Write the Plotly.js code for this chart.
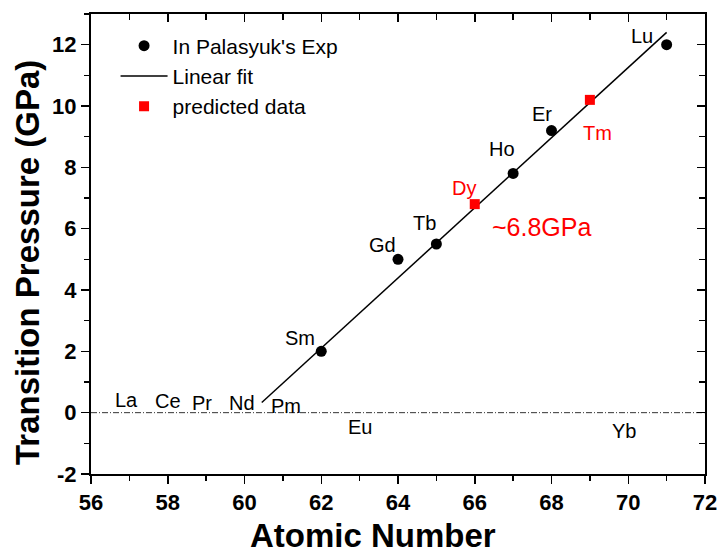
<!DOCTYPE html>
<html>
<head>
<meta charset="utf-8">
<script src="https://cdn.plot.ly/plotly-3.0.1.min.js"></script>
<style>html,body{margin:0;padding:0;background:#fff}#chart{width:721px;height:556px}</style>
</head>
<body>
<div id="chart"></div>
<script>
// measured data (Palasyuk's experiment)
const expNames = ["Sm", "Gd", "Tb", "Ho", "Er", "Lu"];
const expX = [62, 64, 65, 67, 68, 71];
const expY = [2.0, 5.0, 5.5, 7.8, 9.2, 12.0];

// predicted data
const predNames = ["Dy", "Tm"];
const predX = [66, 69];
const predY = [6.8, 10.2];

// linear fit end points
const fitX = [60.45, 71];
const fitY = [0.33, 12.4];

// element labels placed on the chart (name, atomic-number position, pressure position)
const labelNames = ["La", "Ce", "Pr", "Nd", "Pm", "Sm", "Eu", "Gd", "Tb", "Dy", "Ho", "Er", "Tm", "Yb", "Lu"];
const labelX = [56.93, 58.0, 58.88, 59.93, 61.08, 61.45, 63.0, 63.6, 64.7, 65.72, 66.7, 67.74, 69.19, 69.9, 70.35];
const labelY = [0.42, 0.37, 0.33, 0.31, 0.23, 2.43, -0.46, 5.46, 6.17, 7.31, 8.6, 9.75, 9.12, -0.61, 12.29];

const noteText = "~6.8GPa";
const noteX = 67.74;
const noteY = 6.06;

const xTicks = [56, 58, 60, 62, 64, 66, 68, 70, 72];
const yTicks = [-2, 0, 2, 4, 6, 8, 10, 12];

const xTitle = "Atomic Number";
const yTitle = "Transition Pressure (GPa)";

const FONT = "Arial, 'Liberation Sans', sans-serif";
const RED = "#ff0000";

const W = 721, H = 556, M = {l: 91, r: 16, t: 14, b: 82};
const pw = W - M.l - M.r, ph = H - M.t - M.b;

const traces = [
  {x: fitX, y: fitY, mode: "lines", name: "Linear fit", legendrank: 2,
   line: {color: "#000", width: 1.5}},
  {x: expX, y: expY, mode: "markers", name: "In Palasyuk's Exp", legendrank: 1,
   marker: {symbol: "circle", size: 11, color: "#000"}},
  {x: predX, y: predY, mode: "markers", name: "predicted data", legendrank: 3,
   marker: {symbol: "square", size: 10, color: RED}},
  {x: [], y: [], xaxis: "x2", yaxis: "y2", showlegend: false, hoverinfo: "skip"}
];

const annotations = labelNames.map((n, i) => ({
  x: labelX[i], y: labelY[i], xref: "x", yref: "y", text: n, showarrow: false,
  xanchor: "center", yanchor: "middle",
  font: {family: FONT, size: 20, color: predNames.includes(n) ? RED : "#000"}
}));
annotations.push({x: noteX, y: noteY, xref: "x", yref: "y", text: noteText, showarrow: false,
  xanchor: "center", yanchor: "middle",
  font: {family: FONT, size: 25, color: RED}});
// axis titles (placed as in the original figure, slightly off-centre)
annotations.push({x: (373 - M.l) / pw, y: (H - M.b - 535) / ph, xref: "paper", yref: "paper",
  xanchor: "center", yanchor: "middle", text: "<b>" + xTitle + "</b>",
  showarrow: false, font: {family: FONT, size: 33, color: "#000"}});
annotations.push({x: (27 - M.l) / pw, y: (H - M.b - 263) / ph, xref: "paper", yref: "paper",
  xanchor: "center", yanchor: "middle", text: "<b>" + yTitle + "</b>",
  showarrow: false, textangle: -90, font: {family: FONT, size: 33, color: "#000"}});

const axCommon = {
  showline: true, linecolor: "#000", linewidth: 2, showgrid: false, zeroline: false,
  tickcolor: "#000", tickwidth: 1.5, ticklen: 8
};

const layout = {
  width: W, height: H,
  margin: M,
  paper_bgcolor: "#fff", plot_bgcolor: "#fff",
  font: {family: FONT, color: "#000"},
  showlegend: true,
  legend: {x: 0.04, y: 0.975, xanchor: "left", yanchor: "top", bgcolor: "rgba(0,0,0,0)",
    font: {family: FONT, size: 21, color: "#000"}, itemwidth: 47, tracegroupgap: 0},
  xaxis: Object.assign({}, axCommon, {
    range: [56, 72], tickvals: xTicks, ticktext: xTicks.map(String), ticks: "outside",
    minor: {dtick: 1, tick0: 56, ticks: "outside", ticklen: 5, tickcolor: "#000", tickwidth: 1.5},
    tickfont: {family: FONT, size: 22, weight: "bold"}
  }),
  yaxis: Object.assign({}, axCommon, {
    range: [-2, 13], tickvals: yTicks, ticktext: yTicks.map(String), ticks: "outside",
    minor: {dtick: 1, tick0: 0, ticks: "outside", ticklen: 5, tickcolor: "#000", tickwidth: 1.5},
    tickfont: {family: FONT, size: 22, weight: "bold"}
  }),
  xaxis2: Object.assign({}, axCommon, {
    overlaying: "x", side: "top", anchor: "y2", range: [56, 72], tickvals: xTicks, ticks: "inside",
    showticklabels: false,
    minor: {dtick: 1, tick0: 56, ticks: "inside", ticklen: 6, tickcolor: "#000", tickwidth: 1.5}
  }),
  yaxis2: Object.assign({}, axCommon, {
    overlaying: "y", side: "right", anchor: "x2", range: [-2, 13], tickvals: yTicks, ticks: "inside",
    showticklabels: false,
    minor: {dtick: 1, tick0: 0, ticks: "inside", ticklen: 6, tickcolor: "#000", tickwidth: 1.5}
  }),
  shapes: [{type: "line", xref: "paper", yref: "y", x0: 0, x1: 1, y0: 0, y1: 0,
    line: {color: "#333", width: 1, dash: "6px,2px,1px,2px"}, layer: "below"}],
  annotations: annotations
};

Plotly.newPlot("chart", traces, layout, {displayModeBar: false, staticPlot: true});
</script>
</body>
</html>
